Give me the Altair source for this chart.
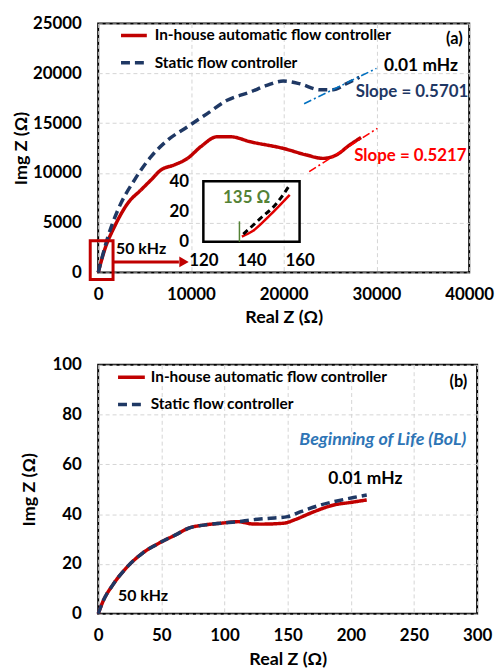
import altair as alt
import pandas as pd

FONT = "Lato"
RED = "#c00000"
NAVY = "#1f3864"
SER_RED = "In-house automatic flow controller"
SER_BLUE = "Static flow controller"

# ---------------- Panel (a): Nyquist curves ----------------
a_red_x = [0, 710, 1780, 3210, 4630, 5700, 6770, 8200, 9630, 11050, 12830, 14260,
           16400, 19960, 22460, 24240, 25670, 27090, 28340]
a_red_y = [0, 2330, 4650, 6980, 8310, 9300, 10300, 10800, 11460, 12630, 13630, 13630,
           13130, 12460, 11800, 11460, 11800, 12790, 13560]
a_blue_x = [0, 1070, 2140, 3920, 5700, 7490, 9630, 11760, 13900, 16400, 18180, 19960,
            21750, 23890, 25310, 26740, 28160]
a_blue_y = [0, 3660, 6320, 9310, 11640, 13300, 14630, 15960, 17290, 18120, 18790, 19220,
            18950, 18350, 18350, 18950, 19600]

# slope guide lines (start, end)
slope_blue_x = [22200, 30000]
slope_blue_y = [16950, 20500]
slope_red_x = [22750, 30100]
slope_red_y = [10130, 14480]

# annotations of panel (a)
a_note_text = ["(a)", "0.01 mHz", "Slope = 0.5701", "Slope = 0.5217", "50 kHz"]
a_note_x = [39300, 30800, 27770, 27600, 1930]
a_note_y = [23400, 20720, 18130, 11680, 2390]
a_note_color = ["black", "black", NAVY, "#ff0000", "black"]
a_note_align = ["right", "left", "left", "left", "left"]
a_note_size = [16.5, 17.5, 17, 17, 16]

# zoom box and arrow near the origin
box_x = [-860, 1600]
box_y = [-700, 3190]
arrow_x = [1600, 8700]
arrow_y = 1066
arrow_head_x = 9250

# inset (high-frequency intercept)
ins_red_x = [136, 140.7, 147.6, 155.9]
ins_red_y = [3.4, 7.3, 17.4, 31.0]
ins_blk_x = [136.6, 143.5, 150.4, 155.5]
ins_blk_y = [5.0, 15.1, 25.3, 36.6]
ins_mark_x = 135
ins_mark_y = 13.5
ins_label = "135 Ω"
ins_label_x = 128.2
ins_label_y = 28.7

# ---------------- Panel (b): Beginning of Life ----------------
b_red_x = [0, 3.9, 11.7, 22.2, 35.2, 48.3, 61.3, 71.7, 84.8, 97.8, 110.9, 121.3, 129.1,
           147.4, 155.2, 170.9, 186.5, 199.6, 212.6]
b_red_y = [0, 5.1, 11.7, 18.4, 24.4, 28.4, 31.7, 34.4, 35.7, 36.4, 37.0, 36.1, 36.0,
           36.4, 37.7, 41.0, 43.7, 44.7, 45.7]
b_blue_x = [0, 3.9, 11.7, 22.2, 35.2, 48.3, 61.3, 71.7, 84.8, 97.8, 110.9, 121.3, 134.4,
            150.0, 160.4, 176.0, 189.1, 202.1, 212.6]
b_blue_y = [0, 5.1, 11.7, 18.4, 24.4, 28.4, 31.7, 34.4, 35.7, 36.4, 37.0, 37.7, 38.3,
            39.0, 41.0, 43.7, 45.3, 46.7, 47.7]

b_note_text = ["(b)", "Beginning of Life (BoL)", "0.01 mHz", "50 kHz"]
b_note_x = [292.2, 291.4, 211.5, 15.7]
b_note_y = [93.2, 69.7, 54.2, 7.2]
b_note_color = ["black", "#2e75b6", "black", "black"]
b_note_align = ["right", "right", "center", "left"]
b_note_style = ["normal", "italic", "normal", "normal"]
b_note_size = [16.5, 18, 17.5, 16]


def series_df(rx, ry, bx, by):
    return pd.DataFrame({
        "x": rx + bx,
        "y": ry + by,
        "series": [SER_RED] * len(rx) + [SER_BLUE] * len(bx),
        "order": list(range(len(rx))) + list(range(len(bx))),
    })


def make_legend(lx, ly, size, rowpad, loff):
    return alt.Legend(orient="none", legendX=lx, legendY=ly, title=None,
                      symbolType="stroke", symbolSize=size, symbolStrokeWidth=3.5,
                      labelFont=FONT, labelFontSize=15.5, labelFontWeight="bold",
                      labelColor="black", labelOffset=loff, rowPadding=rowpad, labelLimit=400)


def axis(title, values, pad_title, **kw):
    return alt.Axis(title=title, values=values, format="d", grid=True,
                    gridColor="#d4d4d4", gridDash=[4, 3], gridWidth=1,
                    domain=False, ticks=False, labelFlush=False,
                    labelOverlap=False, labelFont=FONT, labelFontSize=17,
                    labelFontWeight="bold", labelColor="black",
                    titleFont=FONT, titleFontSize=18, titleFontWeight="bold",
                    titleColor="black", titlePadding=pad_title, **kw)


def notes(xenc, yenc, texts, xs, ys, colors, aligns, sizes, styles=None):
    layers = []
    for i, t in enumerate(texts):
        df = pd.DataFrame({"x": [xs[i]], "y": [ys[i]], "t": [t]})
        style = styles[i] if styles else "normal"
        layers.append(
            alt.Chart(df).mark_text(align=aligns[i], baseline="middle", font=FONT,
                                    fontSize=sizes[i], fontWeight="bold", fontStyle=style,
                                    color=colors[i])
            .encode(x=xenc, y=yenc, text="t:N")
        )
    return layers


def curves(df, xenc, yenc, leg):
    color = alt.Color("series:N", scale=alt.Scale(domain=[SER_RED, SER_BLUE], range=[RED, NAVY]),
                      legend=leg)
    dash = alt.StrokeDash("series:N",
                          scale=alt.Scale(domain=[SER_RED, SER_BLUE], range=[[1, 0], [9, 5]]),
                          legend=leg)
    return alt.Chart(df).mark_line(strokeWidth=3.5, interpolate="monotone").encode(
        x=xenc, y=yenc, color=color, strokeDash=dash, order="order:Q")


# ---------- build panel (a) ----------
ax_a_x = alt.X("x:Q", scale=alt.Scale(domain=[0, 40000], nice=False),
               axis=axis("Real Z (Ω)", [0, 10000, 20000, 30000, 40000], 6, labelPadding=14))
ax_a_y = alt.Y("y:Q", scale=alt.Scale(domain=[0, 25000], nice=False),
               axis=axis("Img Z (Ω)", [0, 5000, 10000, 15000, 20000, 25000], 1.5,
                         labelPadding=17))

dfa = series_df(a_red_x, a_red_y, a_blue_x, a_blue_y)
main_a = [curves(dfa, ax_a_x, ax_a_y, make_legend(21, -3, 676, 3.5, 6))]

slope_df_b = pd.DataFrame({"x": slope_blue_x, "y": slope_blue_y})
slope_df_r = pd.DataFrame({"x": slope_red_x, "y": slope_red_y})
main_a.append(alt.Chart(slope_df_b).mark_line(color="#0070c0", strokeWidth=1.6,
                                               strokeDash=[8, 3, 2, 3]).encode(x=ax_a_x, y=ax_a_y))
main_a.append(alt.Chart(slope_df_r).mark_line(color="#ff0000", strokeWidth=1.6,
                                               strokeDash=[8, 3, 2, 3]).encode(x=ax_a_x, y=ax_a_y))
main_a += notes(ax_a_x, ax_a_y, a_note_text, a_note_x, a_note_y, a_note_color, a_note_align,
                a_note_size)

box_df = pd.DataFrame({"x": [box_x[0]], "x2": [box_x[1]], "y": [box_y[0]], "y2": [box_y[1]]})
main_a.append(alt.Chart(box_df).mark_rect(fillOpacity=0, stroke=RED, strokeWidth=3)
              .encode(x=ax_a_x, x2="x2:Q", y=ax_a_y, y2="y2:Q"))
arrow_df = pd.DataFrame({"x": [arrow_x[0]], "x2": [arrow_x[1]], "y": [arrow_y]})
main_a.append(alt.Chart(arrow_df).mark_rule(color=RED, strokeWidth=3)
              .encode(x=ax_a_x, x2="x2:Q", y=ax_a_y))
head_df = pd.DataFrame({"x": [arrow_head_x], "y": [arrow_y]})
main_a.append(alt.Chart(head_df).mark_point(shape="triangle-right", filled=True, size=120,
                                             color=RED, opacity=1)
              .encode(x=ax_a_x, y=ax_a_y))

main_layer_a = alt.layer(*main_a)

# inset
in_ax_kw = dict(domain=False, ticks=False, grid=False, labelFlush=False, labelOverlap=False,
                labelFont=FONT, labelFontSize=17, labelFontWeight="bold", labelColor="black")
ix = alt.X("ix:Q", title=None, scale=alt.Scale(domain=[120, 160], range=[106, 203], nice=False),
           axis=alt.Axis(orient="bottom", offset=-34, values=[120, 140, 160], labelPadding=14,
                         **in_ax_kw))
iy = alt.Y("iy:Q", title=None, scale=alt.Scale(domain=[0, 40], range=[220, 159], nice=False),
           axis=alt.Axis(orient="left", offset=-106, values=[0, 20, 40], labelPadding=15,
                         **in_ax_kw))

frame_df = pd.DataFrame({"ix": [120], "ix2": [160], "iy": [0], "iy2": [40]})
ins_layers = [
    alt.Chart(frame_df).mark_rect(fillOpacity=0, stroke="black", strokeWidth=2.5)
    .encode(x=ix, x2="ix2:Q", y=iy, y2="iy2:Q"),
    alt.Chart(pd.DataFrame({"ix": ins_red_x, "iy": ins_red_y}))
    .mark_line(color="#e00000", strokeWidth=2.5, interpolate="monotone").encode(x=ix, y=iy),
    alt.Chart(pd.DataFrame({"ix": ins_blk_x, "iy": ins_blk_y}))
    .mark_line(color="black", strokeWidth=3, strokeDash=[6, 4], interpolate="monotone")
    .encode(x=ix, y=iy),
    alt.Chart(pd.DataFrame({"ix": [ins_mark_x], "iy": [0], "iy2": [ins_mark_y]}))
    .mark_rule(color="#548235", strokeWidth=1.5).encode(x=ix, y=iy, y2="iy2:Q"),
    alt.Chart(pd.DataFrame({"ix": [ins_label_x], "iy": [ins_label_y], "t": [ins_label]}))
    .mark_text(align="left", baseline="middle", font=FONT, fontSize=17, fontWeight="bold",
               color="#548235").encode(x=ix, y=iy, text="t:N"),
]
inset_layer = alt.layer(*ins_layers)

panel_a = (alt.layer(main_layer_a, inset_layer)
           .resolve_scale(x="independent", y="independent")
           .properties(width=374, height=251))

# ---------- build panel (b) ----------
ax_b_x = alt.X("x:Q", scale=alt.Scale(domain=[0, 300], nice=False),
               axis=axis("Real Z (Ω)", [0, 50, 100, 150, 200, 250, 300], 7, labelPadding=14))
ax_b_y = alt.Y("y:Q", scale=alt.Scale(domain=[0, 100], nice=False),
               axis=axis("Img Z (Ω)", [0, 20, 40, 60, 80, 100], 14, labelPadding=17))
dfb = series_df(b_red_x, b_red_y, b_blue_x, b_blue_y)
main_b = [curves(dfb, ax_b_x, ax_b_y, make_legend(18, -3, 729, 3.5, 4))]
main_b += notes(ax_b_x, ax_b_y, b_note_text, b_note_x, b_note_y, b_note_color, b_note_align,
                b_note_size, b_note_style)
panel_b = alt.layer(*main_b).properties(width=382, height=251)

chart = (alt.vconcat(panel_a, panel_b, spacing=28)
         .resolve_scale(color="independent", strokeDash="independent")
         .resolve_legend(color="independent", strokeDash="independent")
         .configure_view(stroke="black", strokeWidth=2)
         .properties(padding={"left": 12, "top": 11, "right": 0, "bottom": 2},
                     background="white"))

chart.save("out.html", embed_options={"renderer": "svg", "actions": False})
